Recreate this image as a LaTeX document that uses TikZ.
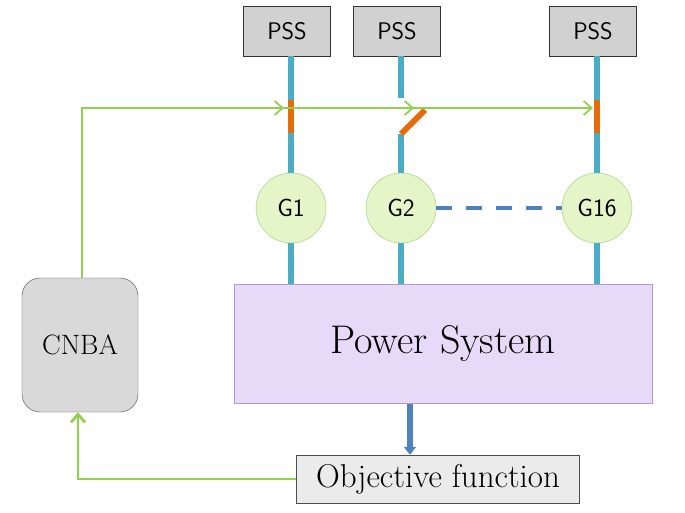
\documentclass[tikz,border=0pt]{standalone}
\usepackage{tikz}
\usetikzlibrary{positioning,arrows.meta}
\definecolor{wireblue}{RGB}{75,172,198}
\definecolor{swor}{RGB}{228,108,10}
\definecolor{siggreen}{RGB}{146,208,80}
\definecolor{lav}{RGB}{230,218,248}
\definecolor{lavline}{RGB}{180,150,210}
\definecolor{genfill}{RGB}{228,246,200}
\definecolor{genline}{RGB}{160,200,110}
\definecolor{dashblue}{RGB}{79,129,189}
\begin{document}
\begin{tikzpicture}[x=1pt,y=-1pt]
        \tikzstyle{pss}=[draw=black!80, fill=black!18, minimum width=87pt, minimum height=50pt, font=\sffamily\fontsize{24}{27}\selectfont]
        \tikzstyle{gen}=[circle, draw=genline, fill=genfill, minimum size=70pt, inner sep=0pt, font=\sffamily\fontsize{25}{28}\selectfont]
        \tikzstyle{wire}=[line width=6pt, wireblue]
        \tikzstyle{sw}=[line width=6pt, swor]
        \tikzstyle{sig}=[draw=siggreen, line width=1.8pt, -{Straight Barb[length=8pt,width=14pt]}]
        \useasboundingbox (0,0) rectangle (685,513);

        \node[pss] (p1) at (287,31) {PSS};
        \node[pss] (p2) at (397,31) {PSS};
        \node[pss] (p3) at (593,31) {PSS};
        \node[gen] (g1) at (291,208) {G1};
        \node[gen] (g2) at (401,208) {G2};
        \node[gen] (g16) at (597,208) {G16};
        \node[draw=lavline, fill=lav, minimum width=418pt, minimum height=119pt, font=\fontsize{40}{44}\selectfont] (ps) at (443,344) {Power System};
        \node[draw=black!70, fill=black!15, rounded corners=18pt, minimum width=116pt, minimum height=134pt, inner sep=0pt, font=\fontsize{28}{32}\selectfont] (cnba) at (80,345) {CNBA};
        \node[draw=black!70, fill=black!8, minimum width=283pt, minimum height=48pt, inner sep=0pt, font=\fontsize{33}{36}\selectfont] (obj) at (438,479) {Objective function};

        % generator wires and switches
        \coordinate (a1) at (291,100); \coordinate (b1) at (291,133);
        \coordinate (a2) at (401,98);  \coordinate (b2) at (401,134); \coordinate (c2) at (425,110);
        \coordinate (a3) at (597,100); \coordinate (b3) at (597,133);
        \draw[wire] (p1.south -| a1) -- (a1);  \draw[wire] (b1) -- (g1.north);
        \draw[wire] (p2.south -| a2) -- (a2);  \draw[wire] (b2) -- (g2.north);
        \draw[wire] (p3.south -| a3) -- (a3);  \draw[wire] (b3) -- (g16.north);
        \draw[sw] (a1) -- (b1);
        \draw[sw] (b2) -- (c2);
        \draw[sw] (a3) -- (b3);
        \draw[wire] (g1.south) -- (g1.south |- ps.north);
        \draw[wire] (g2.south) -- (g2.south |- ps.north);
        \draw[wire] (g16.south) -- (g16.south |- ps.north);
        \draw[line width=3.5pt, dashblue, dash pattern=on 16pt off 14pt] (g2.east) -- (g16.west);

        % control signals
        \coordinate (top) at (82,108);
        \draw[draw=siggreen, line width=1.8pt] (cnba.north -| top) -- (top) -- (590,108);
        \draw[sig] (top) -- (284,108);
        \draw[sig] (top) -- (414,108);
        \draw[sig] (top) -- (593,108);
        \draw[line width=6pt, dashblue, -{Triangle[length=8pt,width=12pt]}] (ps.south -| 410,0) -- (obj.north -| 410,0);
        \draw[sig, line width=2.8pt] (obj.west) -- (78,479) -- (cnba.south -| 78,0);
    \end{tikzpicture}
\end{document}
